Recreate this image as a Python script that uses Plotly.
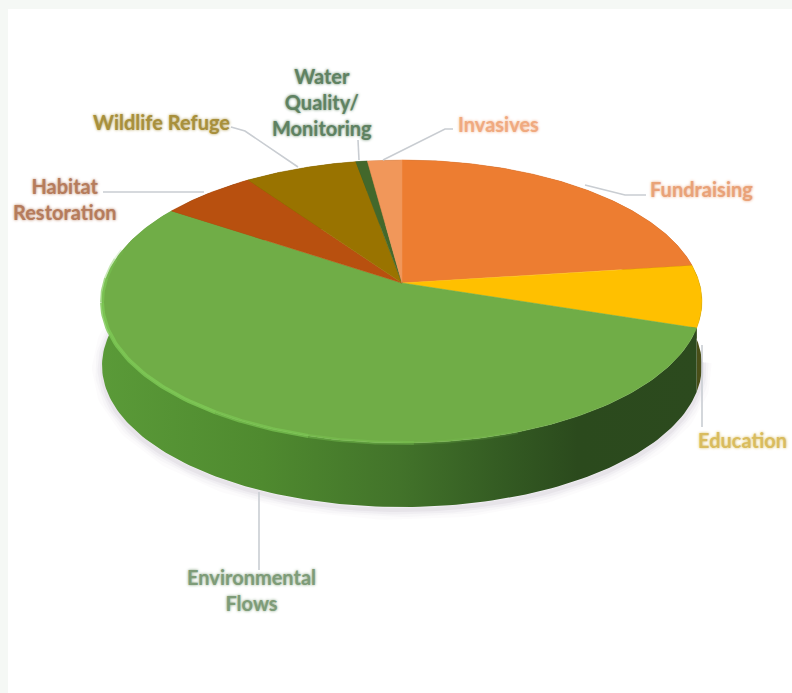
import numpy as np
import plotly.graph_objects as go

# Data
categories = ["Fundraising", "Education", "Environmental Flows", "Habitat Restoration",
              "Wildlife Refuge", "Water Quality/ Monitoring", "Invasives"]
values = [22.9, 7.1, 54.3, 5.9, 6.9, 0.7, 2.1]
top_colors = ["#ED7D31", "#FFC000", "#70AD47", "#B8500F", "#997300", "#43682B", "#F1975A"]
wall_colors = ["#8F4A1C", "#4A4F18", "#4C8A2E", "#6E3009", "#5C4500", "#284018", "#90592F"]
label_lines = [["Fundraising"], ["Education"], ["Environmental", "Flows"], ["Habitat", "Restoration"],
               ["Wildlife Refuge"], ["Water", "Quality/", "Monitoring"], ["Invasives"]]
label_colors = ["#E9A278", "#D9BC5E", "#7E9C78", "#B67C5C", "#A8903C", "#5F8262", "#F0AA80"]
label_xy = [(701, 189), (742, 440), (251, 590), (65, 199), (161, 122), (322, 102), (498, 124)]
leaders = [[(585, 185), (625, 195), (646, 195)], [(702, 345), (702, 427)], [(259, 492), (259, 570)],
           [(204, 192), (103, 192)], [(298, 167), (245, 131), (231, 127)],
           [(359, 160), (358, 140)], [(383, 160), (445, 129), (453, 129)]]

# Projection of the pie disc
CX, CY, A, B, K, DEPTH = 402, 283, 297.4, 139.1, 0.1307, 64

def project(deg, drop=0.0):
    t = np.radians(deg)
    u, v = np.sin(t), np.cos(t)
    w = 1 + K * v
    return CX + A * u / w, CY - B * v / w + drop

total = sum(values)
edges = np.concatenate([[0], np.cumsum(values) / total * 360])

fig = go.Figure()

# Soft shadow under the wall
ring = np.linspace(95, 285, 200)
sx, sy = project(ring, DEPTH + 3)
for width, alpha in [(20, 0.025), (14, 0.035), (9, 0.05), (4, 0.07)]:
    fig.add_trace(go.Scatter(x=sx, y=sy, mode="lines", hoverinfo="skip",
                             line=dict(color=f"rgba(120,105,130,{alpha})", width=width)))

# Walls
for i in [6, 5, 4, 3, 0, 1, 2]:
    a = np.linspace(edges[i], edges[i + 1], 160)
    x1, y1 = project(a)
    x2, y2 = project(a[::-1], DEPTH)
    px, py = np.r_[x1, x2, x1[0]], np.r_[y1, y2, y1[0]]
    kw = dict(fillcolor=wall_colors[i])
    if i == 2:
        kw = dict(fillgradient=dict(type="horizontal", colorscale=[
            [0, "#5A9A38"], [0.27, "#4F8A2F"], [0.5, "#42732A"], [0.68, "#335A22"],
            [0.8, "#2B4A1D"], [1, "#2C4A1E"]]))
    fig.add_trace(go.Scatter(x=px, y=py, mode="lines", fill="toself", hoverinfo="skip",
                             line=dict(width=0), **kw))

# Top face slices
for i in range(len(values)):
    a = np.linspace(edges[i], edges[i + 1], 160)
    x1, y1 = project(a)
    fig.add_trace(go.Scatter(x=np.r_[CX, x1, CX], y=np.r_[CY, y1, CY], mode="lines", fill="toself",
                             fillcolor=top_colors[i], line=dict(width=0.5, color=top_colors[i]),
                             name=categories[i], hoverinfo="name"))

# Rim highlight along the front-left of the disc, fading at both ends
rim_stops = [(160, 0.1), (178, 0.25), (196, 0.55), (214, 0.8), (262, 0.85), (272, 0.55), (280, 0.3), (284, 0.12)]
for (a0, al0), (a1, al1) in zip(rim_stops[:-1], rim_stops[1:]):
    rx, ry = project(np.linspace(a0, a1, 40), 0)
    fig.add_trace(go.Scatter(x=rx, y=ry, mode="lines", hoverinfo="skip",
                             line=dict(color=f"rgba(125,200,85,{(al0 + al1) / 2})", width=4)))

# Leader lines
for pts in leaders:
    fig.add_trace(go.Scatter(x=[p[0] for p in pts], y=[p[1] for p in pts], mode="lines",
                             hoverinfo="skip", line=dict(color="#C9CDD2", width=1.6)))

# Labels
annotations = []
for lines, (lx, ly), col in zip(label_lines, label_xy, label_colors):
    annotations.append(dict(x=lx, y=ly, text="<br>".join(lines), showarrow=False,
                            xanchor="center", yanchor="middle", align="center",
                            font=dict(family="Lato", size=20, color=col, weight="bold",
                                      shadow=f"0 0 3px {col}")))

fig.update_layout(
    width=792, height=693, margin=dict(l=0, r=0, t=0, b=0), showlegend=False,
    paper_bgcolor="#F5F8F5", plot_bgcolor="#FFFFFF",
    xaxis=dict(range=[0, 792], visible=False, fixedrange=True),
    yaxis=dict(range=[693, 0], visible=False, fixedrange=True),
    annotations=annotations,
    shapes=[dict(type="rect", xref="x", yref="y", x0=8, x1=792, y0=9, y1=693,
                 fillcolor="#FFFFFF", line=dict(width=0), layer="below"),
            dict(type="rect", xref="x", yref="y", x0=0, x1=8, y0=0, y1=693,
                 fillcolor="#F5F8F5", line=dict(width=0), layer="below"),
            dict(type="rect", xref="x", yref="y", x0=0, x1=792, y0=0, y1=9,
                 fillcolor="#F5F8F5", line=dict(width=0), layer="below")],
)
fig.write_html("out.html", post_script="document.body.style.margin='0';document.documentElement.style.overflow='hidden';",
               config={"displayModeBar": False})
